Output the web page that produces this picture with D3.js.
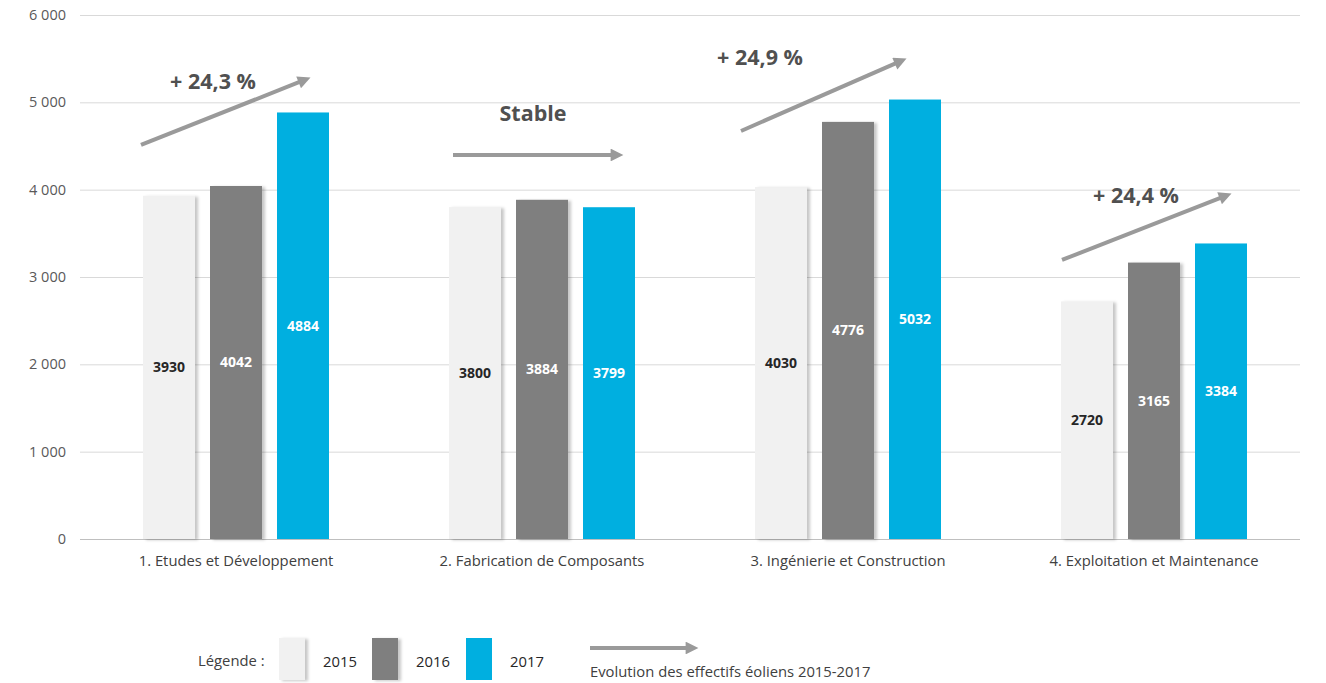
<!DOCTYPE html>
<html><head><meta charset="utf-8">
<script src="https://cdn.jsdelivr.net/npm/d3@7"></script>
<style>
body{margin:0;background:#fff;}
svg{display:block;}
</style></head>
<body>
<svg id="chart" width="1326" height="683"></svg>
<script>
const categories = ["1. Etudes et Développement","2. Fabrication de Composants","3. Ingénierie et Construction","4. Exploitation et Maintenance"];
const years = ["2015","2016","2017"];
const values2015 = [3930, 3800, 4030, 2720];
const values2016 = [4042, 3884, 4776, 3165];
const values2017 = [4884, 3799, 5032, 3384];
const yTicks = [0,1000,2000,3000,4000,5000,6000];
const evolutionLabels = ["+ 24,3 %","Stable","+ 24,9 %","+ 24,4 %"];
const arrowStart = [4512, 4397, 4672, 3195];
const arrowEnd = [5290, 4397, 5508, 3962];
const labelValue = [5244, 4878, 5519, 3928];
const legendTitle = "Légende :";
const legendArrowText = "Evolution des effectifs éoliens 2015-2017";

const colors = {"2015":"#f1f1f1","2016":"#7f7f7f","2017":"#00afe0"};
const textColors = {"2015":"#262626","2016":"#ffffff","2017":"#ffffff"};
const series = {"2015":values2015,"2016":values2016,"2017":values2017};
const FONT = "Open Sans, sans-serif";

const svg = d3.select("#chart");
const defs = svg.append("defs");
const f = defs.append("filter").attr("id","shadow").attr("x","-20%").attr("y","-5%").attr("width","150%").attr("height","115%");
f.append("feDropShadow").attr("dx",3).attr("dy",1).attr("stdDeviation",1.6).attr("flood-color","#000").attr("flood-opacity",0.22);
const mk = defs.append("marker").attr("id","arrowhead").attr("viewBox","0 0 10 10").attr("refX",5).attr("refY",5)
  .attr("markerWidth",4.2).attr("markerHeight",3.2).attr("orient","auto").attr("markerUnits","strokeWidth");
mk.append("path").attr("d","M0,0 L10,5 L0,10 z").attr("fill","#9a9a9a");

const x0 = d3.scaleBand().domain(categories).range([83,1307]).padding(0);
const groupW = 186;
const x1 = d3.scaleBand().domain(years).range([0,groupW]).paddingInner(15/67).paddingOuter(0);
const groupOff = (x0.bandwidth()-groupW)/2;
const y = d3.scaleLinear().domain([0,6000]).range([539,15]);

// grid
const grid = svg.append("g");
grid.selectAll("line").data(yTicks).join("line")
  .attr("x1",80).attr("x2",1300)
  .attr("y1",d=>y(d)+0.5).attr("y2",d=>y(d)+0.5)
  .attr("stroke",d=>d===0?"#bfbfbf":"#d9d9d9").attr("stroke-width",1);

// y axis
const yAxis = d3.axisLeft(y).tickValues(yTicks).tickSize(0).tickPadding(0)
  .tickFormat(d=>d3.format(",")(d).replace(/,/g," "));
const ya = svg.append("g").attr("transform","translate(66,0)").call(yAxis);
ya.select(".domain").remove();
ya.selectAll("text").attr("font-family",FONT).attr("font-size",14.5).attr("fill","#595959");

// x axis labels
const xAxis = d3.axisBottom(x0).tickSize(0).tickPadding(0);
const xa = svg.append("g").attr("transform","translate(0,555)").call(xAxis);
xa.select(".domain").remove();
xa.selectAll("text").attr("font-family",FONT).attr("font-size",14.8).attr("fill","#404040").attr("dy","0.71em");

// bars
const groups = svg.append("g").selectAll("g").data(categories).join("g")
  .attr("transform",d=>`translate(${x0(d)+groupOff},0)`);
const barData = (c,i)=>years.map(yr=>({yr, v:series[yr][i]}));
groups.selectAll("rect").data((c,i)=>barData(c,i)).join("rect")
  .attr("x",d=>x1(d.yr)).attr("width",x1.bandwidth())
  .attr("y",d=>y(d.v)).attr("height",d=>y(0)-y(d.v))
  .attr("fill",d=>colors[d.yr])
  .attr("filter",d=>d.yr==="2017"?null:"url(#shadow)");
groups.selectAll("text").data((c,i)=>barData(c,i)).join("text")
  .attr("x",d=>x1(d.yr)+x1.bandwidth()/2).attr("y",d=>y(d.v/2))
  .attr("dy","0.35em").attr("text-anchor","middle")
  .attr("font-family",FONT).attr("font-weight","bold").attr("font-size",14)
  .attr("fill",d=>textColors[d.yr]).text(d=>d.v);

// evolution arrows
const arrowOffsets = [[58,229],[64,236],[46,213],[61,232]];
const labelOffsets = [130,144,65,135];
const ann = svg.append("g");
categories.forEach((c,i)=>{
  const bx = x0(c);
  const dxA = arrowOffsets[i][1]-arrowOffsets[i][0];
  const dyA = y(arrowEnd[i])-y(arrowStart[i]);
  const len = Math.hypot(dxA,dyA);
  ann.append("line")
    .attr("x1",bx+arrowOffsets[i][0]).attr("y1",y(arrowStart[i]))
    .attr("x2",bx+arrowOffsets[i][1]-8*dxA/len).attr("y2",y(arrowEnd[i])-8*dyA/len)
    .attr("stroke","#9a9a9a").attr("stroke-width",4).attr("marker-end","url(#arrowhead)");
  ann.append("text").attr("x",bx+labelOffsets[i]).attr("y",y(labelValue[i])).attr("dy","0.35em")
    .attr("text-anchor","middle").attr("font-family",FONT).attr("font-weight","bold")
    .attr("font-size",21.5).attr("fill","#505050").text(evolutionLabels[i]);
});

// legend
const lg = svg.append("g");
lg.append("text").attr("x",198).attr("y",661).attr("dy","0.35em").attr("font-family",FONT)
  .attr("font-size",14.8).attr("fill","#404040").text(legendTitle);
const legX = [279,372,466];
years.forEach((yr,i)=>{
  lg.append("rect").attr("x",legX[i]).attr("y",638).attr("width",26).attr("height",42)
    .attr("fill",colors[yr]).attr("filter",yr==="2017"?null:"url(#shadow)");
  lg.append("text").attr("x",legX[i]+44).attr("y",662).attr("dy","0.35em").attr("font-family",FONT)
    .attr("font-size",14.8).attr("fill","#262626").text(yr);
});
lg.append("line").attr("x1",590).attr("y1",648).attr("x2",692).attr("y2",648)
  .attr("stroke","#9a9a9a").attr("stroke-width",4).attr("marker-end","url(#arrowhead)");
lg.append("text").attr("x",590).attr("y",672).attr("dy","0.35em").attr("font-family",FONT)
  .attr("font-size",14.8).attr("fill","#404040").text(legendArrowText);
</script>
</body></html>
